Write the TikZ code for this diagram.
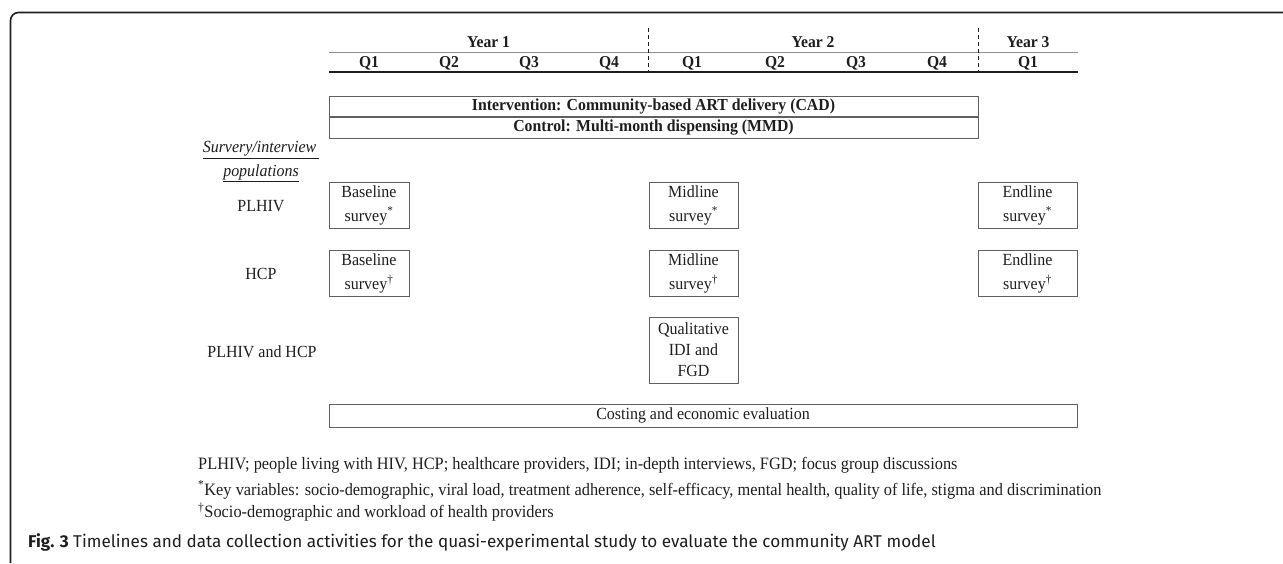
\documentclass[tikz,border=0pt]{standalone}
\usepackage{fontspec}
\setmainfont[FakeStretch=0.94]{Liberation Serif}
\newfontfamily\capfont{Fira Sans}
\usetikzlibrary{positioning}
\definecolor{boxgray}{RGB}{95,95,95}
\definecolor{rulegray}{RGB}{140,140,140}
\definecolor{inkdark}{RGB}{30,30,30}
\tikzset{
  hdr/.style={text=inkdark, font=\bfseries\fontsize{16.6}{18}\selectfont, inner sep=0pt},
  txt/.style={text=inkdark, font=\fontsize{17}{19}\selectfont, inner sep=0pt},
  cell/.style={draw=boxgray, line width=1pt, align=center, inner sep=0pt,
    text=inkdark, font=\fontsize{17}{24}\selectfont, minimum height=46pt},
  band/.style={draw=boxgray, line width=1pt, inner sep=0pt, text=inkdark,
    minimum width=649pt, minimum height=20.5pt},
}
\begin{document}
\begin{tikzpicture}[x=1pt, y=-1pt]
  \useasboundingbox (0,0) rectangle (1283,563);

  % outer frame
  \draw[inkdark, line width=1.6pt, rounded corners=8pt] (10.5,563) -- (10.5,12.5) -- (1283,12.5);

  % time axis
  \begin{scope}
    \draw[rulegray, line width=1pt] (329,52) -- (1078,52);
    \draw[inkdark, line width=1.2pt] (329,72) -- (1078,72);
    \draw[inkdark, line width=1pt, dash pattern=on 4pt off 3pt] (648,28) -- (648,72);
    \draw[inkdark, line width=1pt, dash pattern=on 4pt off 3pt] (978,28) -- (978,72);
    \node[hdr] (year1) at (488.5,42) {Year 1};
    \node[hdr] (year2) at (813,42) {Year 2};
    \node[hdr] (year3) at (1028,42) {Year 3};
    \foreach \q/\x in {1/369, 2/449, 3/529, 4/609}
      \node[hdr] (ya\q) at (\x,63) {Q\q};
    \foreach \q/\x in {1/692, 2/775, 3/856, 4/937}
      \node[hdr] (yb\q) at (\x,63) {Q\q};
    \node[hdr] (yc1) at (1028,63) {Q1};
  \end{scope}

  % study arms
  \node[band, font=\bfseries\fontsize{16.8}{18}\selectfont] (arm) at (653.5,106.25)
    {Intervention: Community-based ART delivery (CAD)};
  \node[band, font=\bfseries\fontsize{16.8}{18}\selectfont, below=0pt of arm] (ctrl)
    {Control: Multi-month dispensing (MMD)};

  % populations
  \node[txt, font=\itshape\fontsize{17}{19}\selectfont] (popa) at (261,150) {\underline{Survery/interview\,}};
  \node[txt, font=\itshape\fontsize{17}{19}\selectfont] (popb) at (261,173) {\underline{populations}};
  \node[txt] (plhiv) at (261,206) {PLHIV};
  \node[txt] (hcp) at (261,274) {HCP};
  \node[txt] (both) at (262,352) {PLHIV and HCP};

  % data collection activities
  \node[cell, minimum width=80pt] (base1) at (369,205) {Baseline\\survey\textsuperscript{*}};
  \node[cell, minimum width=80pt] (base2) at (369,273.5) {Baseline\\survey\textsuperscript{\dag}};
  \node[cell, minimum width=89pt] (mid1) at (693.5,205) {Midline\\survey\textsuperscript{*}};
  \node[cell, minimum width=89pt] (mid2) at (693.5,273.5) {Midline\\survey\textsuperscript{\dag}};
  \node[cell, minimum width=89pt, minimum height=66pt, font=\fontsize{17}{21}\selectfont] (qual) at (693.5,350)
    {Qualitative\\IDI and\\FGD};
  \node[cell, minimum width=99pt] (end1) at (1027.5,205) {Endline\\survey\textsuperscript{*}};
  \node[cell, minimum width=99pt] (end2) at (1027.5,273.5) {Endline\\survey\textsuperscript{\dag}};
  \node[cell, minimum width=748pt, minimum height=23pt] (cost) at (703,415.5) {Costing and economic evaluation};

  % notes
  \node[txt, anchor=west, font=\fontsize{17.4}{19}\selectfont] (note1) at (198,465)
    {PLHIV; people living with HIV, HCP; healthcare providers, IDI; in-depth interviews, FGD; focus group discussions};
  \node[txt, anchor=west, font=\fontsize{17.4}{19}\selectfont] (note2) at (198,490)
    {\textsuperscript{*}Key variables: socio-demographic, viral load, treatment adherence, self-efficacy, mental health, quality of life, stigma and discrimination};
  \node[txt, anchor=west, font=\fontsize{17.4}{19}\selectfont] (note3) at (198,512)
    {\textsuperscript{\dag}Socio-demographic and workload of health providers};

  % caption
  \node[anchor=west, inner sep=0pt, text=inkdark, font=\capfont\fontsize{17.1}{20}\selectfont] (cap) at (28,542)
    {\textbf{Fig. 3} Timelines and data collection activities for the quasi-experimental study to evaluate the community ART model};
\end{tikzpicture}
\end{document}
